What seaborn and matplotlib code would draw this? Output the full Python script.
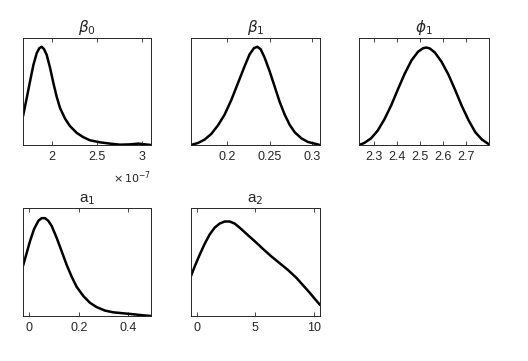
import numpy as np
import pandas as pd
import seaborn as sns
import matplotlib
matplotlib.use("Agg")
import matplotlib.pyplot as plt
from matplotlib.ticker import ScalarFormatter

sns.set_style("white")
plt.rcParams['font.family'] = ['Liberation Sans', 'DejaVu Sans']
plt.rcParams['mathtext.fontset'] = 'dejavusans'

# ---- data (relative posterior density heights) ----
b0_x = [1.680, 1.721, 1.758, 1.795, 1.832, 1.861, 1.887, 1.913, 1.943, 1.980,
        2.017, 2.053, 2.090, 2.146, 2.201, 2.275, 2.349, 2.423, 2.534, 2.645,
        2.756, 2.867, 2.959, 3.033, 3.100]
b0_y = [0.269, 0.437, 0.595, 0.747, 0.858, 0.905, 0.918, 0.896, 0.842, 0.722,
        0.579, 0.453, 0.348, 0.247, 0.177, 0.114, 0.073, 0.044, 0.025, 0.013,
        0.003, 0.006, 0.013, 0.006, 0.0]

b1_x = [0.158, 0.1662, 0.1740, 0.1818, 0.1896, 0.1974, 0.2052, 0.2130, 0.2208,
        0.2266, 0.2317, 0.2356, 0.2395, 0.2442, 0.2500, 0.2559, 0.2617, 0.2676,
        0.2734, 0.2793, 0.2871, 0.2949, 0.3027, 0.3089]
b1_y = [0.0, 0.019, 0.051, 0.104, 0.184, 0.285, 0.421, 0.579, 0.737, 0.848,
        0.905, 0.918, 0.896, 0.816, 0.690, 0.547, 0.405, 0.285, 0.190, 0.120,
        0.063, 0.028, 0.013, 0.0]

phi_x = [2.233, 2.256, 2.286, 2.315, 2.344, 2.374, 2.403, 2.432, 2.462, 2.491,
         2.513, 2.527, 2.542, 2.564, 2.593, 2.623, 2.652, 2.681, 2.711, 2.740,
         2.769, 2.800]
phi_y = [0.0, 0.019, 0.063, 0.136, 0.241, 0.373, 0.522, 0.665, 0.791, 0.873,
         0.905, 0.911, 0.902, 0.864, 0.778, 0.658, 0.516, 0.367, 0.231, 0.120,
         0.051, 0.006]

a1_x = [-0.026, -0.0111, 0.0024, 0.0186, 0.0362, 0.0497, 0.0632, 0.0767,
        0.0902, 0.1105, 0.1308, 0.1511, 0.1713, 0.1916, 0.2186, 0.2457, 0.2727,
        0.3065, 0.3403, 0.3808, 0.4214, 0.4619, 0.4930]
a1_y = [0.464, 0.583, 0.693, 0.803, 0.881, 0.906, 0.906, 0.881, 0.834, 0.724,
        0.599, 0.473, 0.364, 0.270, 0.185, 0.122, 0.082, 0.050, 0.034, 0.025,
        0.016, 0.006, 0.0]

a2_x = [-0.49, -0.177, 0.250, 0.677, 1.105, 1.532, 1.959, 2.386, 2.813, 3.240,
        3.667, 4.237, 4.949, 5.661, 6.372, 7.084, 7.796, 8.508, 9.078, 9.647,
        10.074, 10.530]
a2_y = [0.370, 0.458, 0.567, 0.668, 0.755, 0.818, 0.856, 0.875, 0.875, 0.856,
        0.818, 0.762, 0.693, 0.621, 0.552, 0.489, 0.426, 0.354, 0.285, 0.216,
        0.160, 0.103]

titles = [r"$\beta_0$", r"$\beta_1$", r"$\phi_1$", r"a$_1$", r"a$_2$"]
b0_scale = 1e-7

b0_ticks = [2, 2.5, 3]
b1_ticks = [0.2, 0.25, 0.3]
phi_ticks = [2.3, 2.4, 2.5, 2.6, 2.7]
a1_ticks = [0, 0.2, 0.4]
a2_ticks = [0, 5, 10]


def lab(v):
    return ("%g" % v)


panels = [
    dict(x=[v * b0_scale for v in b0_x], y=b0_y, xlim=(1.68e-7, 3.10e-7),
         ticks=[t * b0_scale for t in b0_ticks],
         labels=[lab(t) for t in b0_ticks]),
    dict(x=b1_x, y=b1_y, xlim=(0.158, 0.309), ticks=b1_ticks,
         labels=[lab(t) for t in b1_ticks]),
    dict(x=phi_x, y=phi_y, xlim=(2.233, 2.80), ticks=phi_ticks,
         labels=[lab(t) for t in phi_ticks]),
    dict(x=a1_x, y=a1_y, xlim=(-0.026, 0.493), ticks=a1_ticks,
         labels=[lab(t) for t in a1_ticks]),
    dict(x=a2_x, y=a2_y, xlim=(-0.49, 10.53), ticks=a2_ticks,
         labels=[lab(t) for t in a2_ticks]),
]

W, H = 528, 361
fig = plt.figure(figsize=(W / 100, H / 100), dpi=100)
fig.patch.set_facecolor("white")

# pixel boxes: left, top, right, bottom
boxes = [(23, 38, 151, 145), (191, 38, 320, 145), (359, 38, 489, 145),
         (23, 208, 151, 316), (191, 208, 320, 316)]

for i, (p, b) in enumerate(zip(panels, boxes)):
    l, t, r, bt = b
    ax = fig.add_axes([l / W, 1 - bt / H, (r - l) / W, (bt - t) / H])
    df = pd.DataFrame({"x": p["x"], "y": p["y"]})
    sns.lineplot(data=df, x="x", y="y", ax=ax, color="black", linewidth=1.8,
                 sort=False, estimator=None)
    for ln in ax.lines:
        ln.set_solid_joinstyle("round")
        ln.set_solid_capstyle("round")
    ax.set_xlim(*p["xlim"])
    ax.set_ylim(0, 1)
    ax.set_xticks(p["ticks"])
    ax.set_xticklabels(p["labels"])
    ax.set_yticks([])
    ax.set_xlabel("")
    ax.set_ylabel("")
    ax.tick_params(axis="x", direction="in", length=3, width=0.6, top=True,
                   bottom=True, labelsize=9, pad=4, colors="#262626",
                   labelcolor="#262626")
    for s in ax.spines.values():
        s.set_color("#262626")
        s.set_linewidth(0.7)
    ax.set_title(titles[i], fontsize=11, pad=4, color="#262626")
    if i == 0:
        ax.text(1.0, -0.23, r"$\times\,10^{-7}$", transform=ax.transAxes,
                ha="right", va="top", fontsize=8, color="#262626")

fig.savefig("out.png", dpi=100, facecolor="white")
